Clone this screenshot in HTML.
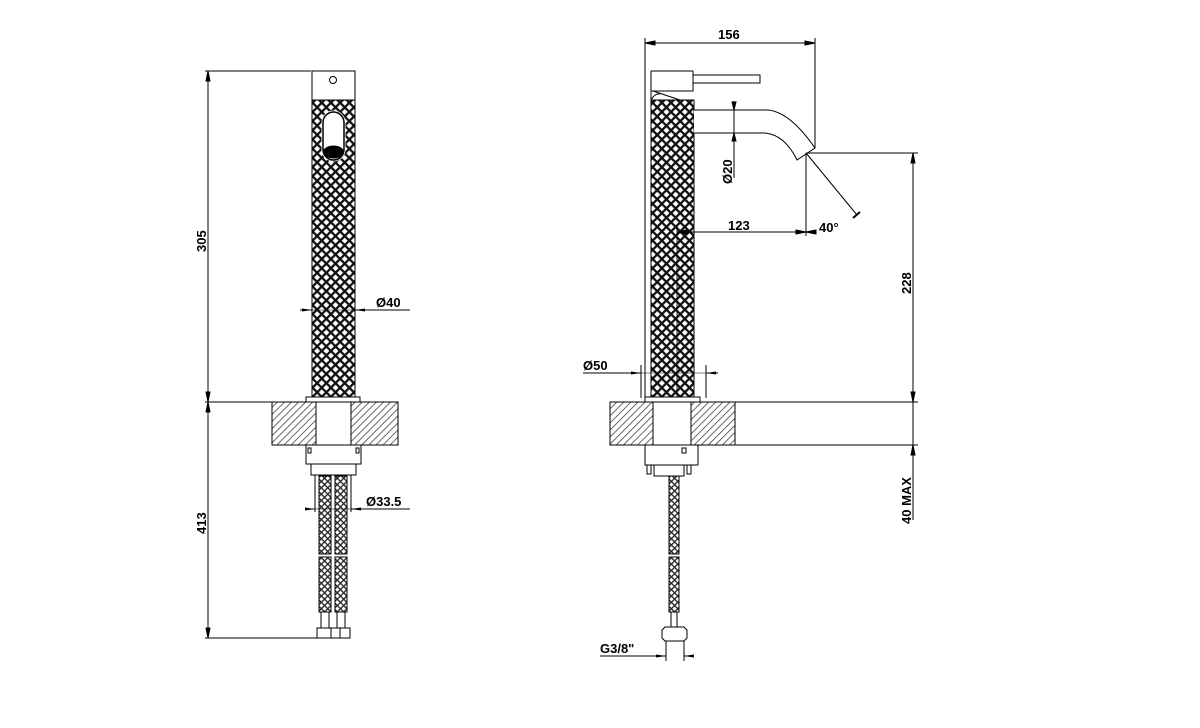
<!DOCTYPE html>
<html><head><style>html,body{margin:0;padding:0;background:#fff}svg{display:block}</style></head>
<body>
<svg width="1200" height="728" viewBox="0 0 1200 728" xmlns="http://www.w3.org/2000/svg" font-family="'Liberation Sans',sans-serif" font-weight="bold">
<defs>
<pattern id="kn" width="6.5" height="6.5" patternUnits="userSpaceOnUse" patternTransform="rotate(45)">
<rect width="6.5" height="6.5" fill="#fff"/>
<rect x="0" y="0" width="2.3" height="6.5" fill="#111"/>
<rect x="0" y="0" width="6.5" height="2.3" fill="#111"/>
</pattern>
<pattern id="kn2" width="4.5" height="4.5" patternUnits="userSpaceOnUse" patternTransform="rotate(45)">
<rect width="4.5" height="4.5" fill="#fff"/>
<rect x="0" y="0" width="1.3" height="4.5" fill="#222"/>
<rect x="0" y="0" width="4.5" height="1.3" fill="#222"/>
</pattern>
<pattern id="ht" width="5" height="5" patternUnits="userSpaceOnUse" patternTransform="rotate(45)">
<rect width="5" height="5" fill="#fff"/>
<rect x="0" y="0" width="0.8" height="5" fill="#444"/>
</pattern>
<marker id="ar" markerWidth="10" markerHeight="6" refX="10" refY="3" orient="auto" markerUnits="userSpaceOnUse"><path d="M0,1.5 L10,3 L0,4.5z" fill="#000"/></marker>
</defs>
<g stroke="#000" stroke-width="1" fill="none">
<!-- LEFT VIEW -->
<line x1="205" y1="71" x2="311" y2="71"/>
<line x1="208" y1="71" x2="208" y2="638"/>
<path d="M208,71 l-2,10 h4z M208,402 l-2,-10 h4z M208,402 l-2,10 h4z M208,638 l-2,-10 h4z" fill="#000"/>
<line x1="205" y1="402" x2="272" y2="402"/>
<line x1="205" y1="638" x2="318" y2="638"/>
<rect x="312" y="71" width="43" height="29" fill="#fff"/>
<circle cx="333" cy="80" r="3.5"/>
<rect x="312" y="100" width="43" height="298" fill="url(#kn)"/>
<rect x="323" y="112" width="21" height="48" rx="10.5" fill="#fff" stroke="#fff" stroke-width="3"/>
<rect x="323" y="112" width="21" height="48" rx="10.5" fill="#fff" stroke-width="1.5"/>
<ellipse cx="333.5" cy="152" rx="10" ry="6" fill="#000"/>
<line x1="300" y1="310" x2="312" y2="310" marker-end="url(#ar)"/>
<line x1="312" y1="310" x2="355" y2="310" stroke-width="0.6"/>
<line x1="367" y1="310" x2="355" y2="310" marker-end="url(#ar)"/>
<line x1="355" y1="310" x2="410" y2="310"/>
<rect x="306" y="397" width="54" height="5" fill="#fff"/>
<rect x="272" y="402" width="44" height="43" fill="url(#ht)"/>
<rect x="351" y="402" width="47" height="43" fill="url(#ht)"/>
<rect x="316" y="402" width="35" height="43" fill="#fff"/>
<rect x="306" y="445" width="55" height="19" fill="#fff"/>
<rect x="308" y="448" width="3" height="5"/><rect x="356" y="448" width="3" height="5"/>
<rect x="311" y="464" width="45" height="11" fill="#fff"/>
<line x1="315" y1="475" x2="315" y2="512"/><line x1="351" y1="475" x2="351" y2="512"/>
<rect x="319" y="476" width="12" height="78" fill="url(#kn2)"/>
<rect x="335" y="476" width="12" height="78" fill="url(#kn2)"/>
<rect x="319" y="557" width="12" height="55" fill="url(#kn2)"/>
<rect x="335" y="557" width="12" height="55" fill="url(#kn2)"/>
<rect x="321" y="612" width="8" height="16"/><rect x="337" y="612" width="8" height="16"/>
<rect x="317" y="628" width="14" height="10" fill="#fff"/><rect x="331" y="628" width="9" height="10" fill="#fff"/><rect x="340" y="628" width="10" height="10" fill="#fff"/>
<line x1="306" y1="509" x2="315" y2="509" marker-end="url(#ar)"/>
<line x1="315" y1="509" x2="351" y2="509" stroke-width="0.6"/>
<line x1="361" y1="509" x2="351" y2="509" marker-end="url(#ar)"/>
<line x1="351" y1="509" x2="410" y2="509"/>

<!-- RIGHT VIEW -->
<line x1="645" y1="38" x2="645" y2="398"/>
<line x1="815" y1="38" x2="815" y2="148"/>
<line x1="645" y1="43" x2="815" y2="43"/>
<path d="M645,43 l10,-2 v4z M815,43 l-10,-2 v4z" fill="#000"/>
<rect x="651" y="71" width="42" height="20" fill="#fff"/>
<rect x="693" y="75" width="67" height="8" fill="#fff"/>
<path d="M651,91 L651,100 M653,91 L680,100 M651,100 Q655,93 660,94"/>
<rect x="651" y="100" width="43" height="298" fill="url(#kn)"/>
<path d="M694,110 H768 Q790,112 815,148 L797,160 Q785,135 765,133 H694" fill="#fff"/>
<line x1="734" y1="101" x2="734" y2="178"/>
<path d="M734,110 l-2,-8 h4z M734,133 l-2,8 h4z" fill="#000"/>
<line x1="806" y1="153" x2="918" y2="153"/>
<line x1="806" y1="153" x2="806" y2="236"/>
<line x1="806" y1="153" x2="857" y2="215"/>
<line x1="853" y1="218" x2="860" y2="212" stroke-width="2"/>
<line x1="677" y1="232" x2="806" y2="232"/>
<path d="M677,232 l10,-2 v4z M806,232 l-10,-2 v4z M806,232 l10,-2 v4z" fill="#000"/>
<line x1="677" y1="226" x2="677" y2="398" stroke-width="0.8"/>
<line x1="913" y1="153" x2="913" y2="520"/>
<path d="M913,153 l-2,10 h4z M913,402 l-2,-10 h4z M913,445 l-2,10 h4z" fill="#000"/>
<line x1="735" y1="402" x2="918" y2="402"/>
<line x1="735" y1="445" x2="918" y2="445"/>
<line x1="641" y1="365" x2="641" y2="398"/><line x1="706" y1="365" x2="706" y2="398"/>
<line x1="583" y1="373" x2="641" y2="373" marker-end="url(#ar)"/>
<line x1="641" y1="373" x2="706" y2="373" stroke-width="0.6"/>
<line x1="718" y1="373" x2="706" y2="373" marker-end="url(#ar)"/>
<rect x="645" y="397" width="55" height="5" fill="#fff"/>
<rect x="610" y="402" width="43" height="43" fill="url(#ht)"/>
<rect x="691" y="402" width="44" height="43" fill="url(#ht)"/>
<rect x="653" y="402" width="38" height="43" fill="#fff"/>
<rect x="645" y="445" width="53" height="20" fill="#fff"/>
<rect x="682" y="448" width="4" height="5"/>
<rect x="647" y="465" width="4" height="9"/><rect x="687" y="465" width="4" height="9"/>
<rect x="654" y="465" width="30" height="11" fill="#fff"/>
<rect x="669" y="476" width="10" height="78" fill="url(#kn2)"/>
<rect x="669" y="557" width="10" height="55" fill="url(#kn2)"/>
<rect x="671" y="612" width="6" height="16"/>
<path d="M662,630 L665,627 H684 L687,630 V638 L684,641 H665 L662,638 Z" fill="#fff"/>
<line x1="666" y1="641" x2="666" y2="661"/><line x1="684" y1="641" x2="684" y2="661"/>
<line x1="600" y1="656" x2="666" y2="656" marker-end="url(#ar)"/>
<line x1="694" y1="656" x2="684" y2="656" marker-end="url(#ar)"/>
</g>
<g font-size="13" fill="#000">
<text transform="translate(206,252) rotate(-90)">305</text>
<text transform="translate(206,534) rotate(-90)">413</text>
<text x="376" y="307">Ø40</text>
<text x="366" y="506">Ø33.5</text>
<text x="718" y="39">156</text>
<text transform="translate(732,184) rotate(-90)">Ø20</text>
<text x="728" y="230">123</text>
<text x="819" y="232">40°</text>
<text transform="translate(911,294) rotate(-90)">228</text>
<text transform="translate(911,524) rotate(-90)">40  MAX</text>
<text x="583" y="370">Ø50</text>
<text x="600" y="653">G3/8"</text>
</g>
</svg>
</body></html>
